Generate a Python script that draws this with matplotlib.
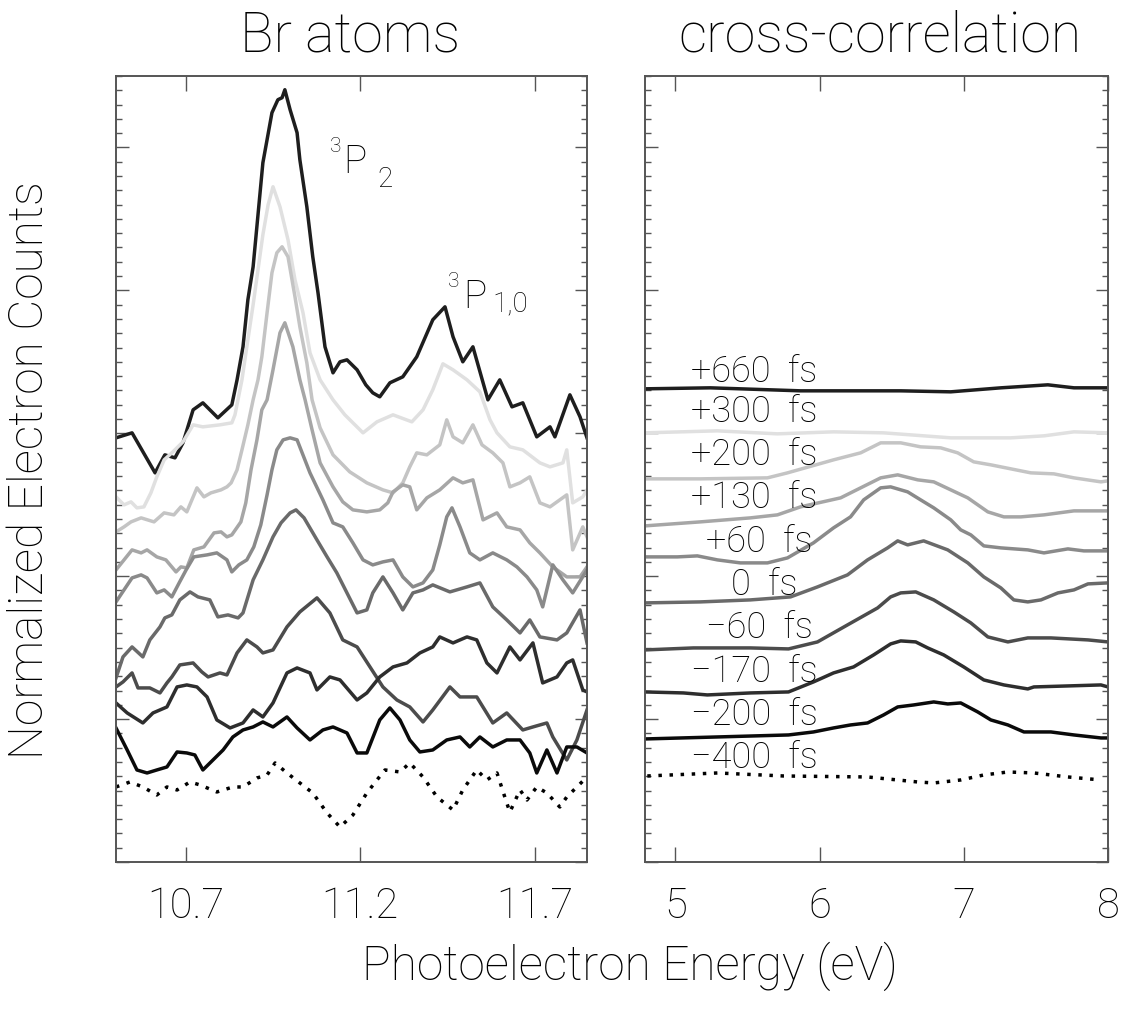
import matplotlib
matplotlib.use("Agg")
import matplotlib.pyplot as plt
from matplotlib.ticker import MultipleLocator, FixedLocator

# Time delays and line colours shared by both panels
delays = ["+660  fs", "+300  fs", "+200  fs", "+130  fs", "+60  fs",
          "0  fs", "\u221260  fs", "\u2212170  fs", "\u2212200  fs", "\u2212400  fs"]
colors = ["#1e1e1e", "#e0e0e0", "#c4c4c4", "#a6a6a6", "#8a8a8a",
          "#6a6a6a", "#4c4c4c", "#2e2e2e", "#0a0a0a", "#000000"]

# ---- Left panel: Br atom photoelectron spectra (energy in eV, offset counts) ----
br_e_p660 = [10.500, 10.546, 10.612, 10.640, 10.669, 10.692, 10.721, 10.749, 10.792, 10.832,
             10.847, 10.864, 10.878, 10.893, 10.907, 10.921, 10.933, 10.947, 10.964, 10.976,
             10.984, 10.999, 11.019, 11.027, 11.047, 11.064, 11.079, 11.099, 11.122, 11.142,
             11.162, 11.191, 11.216, 11.236, 11.256, 11.285, 11.322, 11.362, 11.408, 11.443,
             11.466, 11.494, 11.523, 11.566, 11.600, 11.635, 11.666, 11.706, 11.744, 11.758,
             11.801, 11.830, 11.850]
br_c_p660 = [29.68, 30.03, 27.23, 28.49, 28.28, 29.33, 31.64, 32.13, 31.08, 31.99,
             33.74, 36.05, 39.34, 41.65, 45.29, 48.93, 50.54, 52.43, 53.34, 53.48,
             54.04, 52.64, 51.03, 49.14, 45.85, 42.35, 39.83, 36.05, 34.23, 35.00,
             35.14, 34.44, 33.39, 32.83, 32.55, 33.53, 33.95, 35.35, 37.94, 38.85,
             36.75, 35.00, 36.05, 32.34, 33.74, 31.85, 32.13, 29.75, 30.45, 29.75,
             32.69, 31.15, 29.68]

br_e_p300 = [10.500, 10.523, 10.543, 10.560, 10.580, 10.600, 10.617, 10.638, 10.663, 10.692,
             10.721, 10.749, 10.798, 10.832, 10.841, 10.861, 10.878, 10.893, 10.907, 10.921,
             10.936, 10.950, 10.970, 10.993, 11.013, 11.036, 11.056, 11.085, 11.122, 11.156,
             11.208, 11.248, 11.294, 11.348, 11.380, 11.408, 11.437, 11.466, 11.506, 11.543,
             11.572, 11.592, 11.629, 11.666, 11.715, 11.744, 11.781, 11.792, 11.809, 11.838,
             11.850]
br_c_p300 = [25.55, 24.99, 25.20, 24.78, 24.85, 25.83, 26.95, 28.14, 28.70, 29.40,
             30.59, 30.45, 30.59, 30.73, 31.29, 33.74, 36.54, 38.99, 41.44, 43.89,
             45.99, 47.25, 45.85, 43.54, 40.74, 38.43, 35.63, 33.74, 32.34, 31.29,
             30.03, 30.80, 31.29, 30.80, 31.64, 33.04, 34.86, 34.44, 33.74, 32.90,
             30.94, 30.03, 29.05, 28.84, 27.93, 27.65, 27.93, 28.84, 25.13, 25.55,
             26.04]

br_e_p200 = [10.500, 10.523, 10.543, 10.572, 10.609, 10.638, 10.666, 10.686, 10.703, 10.732,
             10.752, 10.772, 10.801, 10.818, 10.830, 10.847, 10.861, 10.878, 10.893, 10.907,
             10.918, 10.933, 10.947, 10.961, 10.976, 10.993, 11.013, 11.027, 11.047, 11.062,
             11.085, 11.122, 11.170, 11.219, 11.265, 11.294, 11.322, 11.342, 11.362, 11.391,
             11.428, 11.448, 11.466, 11.494, 11.523, 11.549, 11.580, 11.609, 11.629, 11.658,
             11.686, 11.715, 11.744, 11.772, 11.792, 11.809, 11.838, 11.850]
br_c_p200 = [23.10, 23.45, 23.80, 24.08, 23.80, 24.43, 24.29, 24.85, 24.50, 26.18,
             25.55, 25.83, 26.04, 26.25, 26.53, 27.44, 28.84, 30.59, 32.34, 33.74,
             35.35, 38.43, 41.23, 42.63, 43.05, 42.35, 39.55, 37.45, 34.93, 32.34,
             30.38, 28.49, 27.30, 26.53, 26.04, 25.83, 26.53, 27.65, 28.63, 28.49,
             29.19, 30.94, 29.75, 29.33, 30.59, 29.19, 28.63, 27.93, 26.25, 26.53,
             26.95, 25.13, 24.85, 25.34, 25.69, 21.84, 23.45, 22.75]

br_e_p130 = [10.500, 10.523, 10.546, 10.572, 10.589, 10.617, 10.643, 10.672, 10.686, 10.703,
             10.723, 10.752, 10.781, 10.801, 10.818, 10.832, 10.858, 10.872, 10.887, 10.904,
             10.918, 10.933, 10.950, 10.970, 10.984, 11.007, 11.027, 11.042, 11.062, 11.085,
             11.122, 11.150, 11.179, 11.219, 11.256, 11.279, 11.294, 11.322, 11.342, 11.362,
             11.391, 11.428, 11.466, 11.494, 11.523, 11.552, 11.592, 11.620, 11.658, 11.686,
             11.715, 11.752, 11.792, 11.830, 11.850]
br_c_p130 = [20.44, 21.14, 21.84, 21.63, 21.84, 21.35, 21.14, 20.30, 20.65, 20.58,
             21.84, 22.05, 23.03, 23.10, 22.75, 22.89, 23.80, 25.13, 27.44, 29.54,
             31.64, 32.34, 34.44, 37.03, 37.73, 36.05, 33.74, 32.34, 30.24, 27.93,
             26.25, 25.20, 24.64, 24.50, 24.64, 25.13, 25.90, 26.39, 26.25, 24.64,
             25.48, 26.04, 26.88, 26.53, 26.74, 23.94, 24.43, 23.45, 23.24, 22.33,
             21.63, 20.65, 19.95, 19.95, 20.65]

br_e_p60 = [10.500, 10.523, 10.546, 10.572, 10.589, 10.617, 10.638, 10.660, 10.681, 10.701,
            10.723, 10.761, 10.789, 10.818, 10.832, 10.852, 10.875, 10.895, 10.915, 10.933,
            10.947, 10.961, 10.979, 10.999, 11.019, 11.056, 11.093, 11.122, 11.150, 11.179,
            11.208, 11.236, 11.265, 11.294, 11.322, 11.351, 11.380, 11.408, 11.428, 11.448,
            11.463, 11.486, 11.514, 11.543, 11.580, 11.620, 11.649, 11.678, 11.706, 11.723,
            11.752, 11.781, 11.809, 11.850]
br_c_p60 = [18.20, 19.04, 19.88, 20.09, 19.88, 18.83, 19.04, 18.55, 19.53, 20.44,
            21.35, 21.49, 21.63, 21.14, 20.30, 20.79, 21.14, 22.05, 23.59, 25.69,
            27.44, 28.84, 29.54, 29.68, 29.54, 27.23, 25.34, 23.73, 23.45, 22.33,
            21.14, 20.79, 21.00, 21.14, 19.95, 19.25, 19.53, 20.44, 22.19, 24.15,
            24.78, 23.45, 21.63, 21.14, 21.63, 21.14, 20.65, 19.95, 19.04, 17.85,
            20.79, 19.74, 18.83, 20.44]

br_e_0 = [10.500, 10.520, 10.546, 10.577, 10.597, 10.626, 10.640, 10.660, 10.683, 10.712,
          10.735, 10.769, 10.792, 10.821, 10.850, 10.864, 10.893, 10.921, 10.950, 10.973,
          10.999, 11.016, 11.039, 11.076, 11.105, 11.133, 11.162, 11.191, 11.219, 11.236,
          11.265, 11.294, 11.322, 11.351, 11.380, 11.408, 11.457, 11.506, 11.543, 11.580,
          11.620, 11.658, 11.686, 11.715, 11.764, 11.792, 11.830, 11.850]
br_c_0 = [12.88, 14.35, 15.05, 14.35, 15.54, 16.45, 17.08, 17.29, 18.34, 18.90,
          18.55, 18.34, 17.15, 17.29, 17.08, 17.43, 19.74, 21.14, 22.75, 23.73,
          24.43, 24.64, 24.08, 22.54, 21.35, 20.23, 18.83, 17.43, 17.64, 18.83,
          19.95, 18.83, 17.64, 18.83, 19.04, 19.39, 18.90, 19.25, 19.53, 17.85,
          16.94, 16.03, 16.94, 15.75, 15.54, 16.03, 17.64, 15.33]

br_e_m60 = [10.500, 10.520, 10.546, 10.563, 10.597, 10.626, 10.646, 10.660, 10.683, 10.721,
            10.746, 10.764, 10.798, 10.818, 10.847, 10.875, 10.904, 10.921, 10.950, 10.990,
            11.027, 11.076, 11.113, 11.150, 11.191, 11.228, 11.265, 11.305, 11.342, 11.380,
            11.408, 11.457, 11.486, 11.534, 11.580, 11.620, 11.666, 11.695, 11.735, 11.752,
            11.792, 11.821, 11.850]
br_c_m60 = [12.25, 12.60, 13.23, 12.18, 12.18, 11.83, 12.53, 12.95, 13.79, 13.93,
            13.30, 12.95, 13.23, 13.09, 14.63, 15.54, 15.05, 14.63, 14.84, 16.45,
            17.50, 18.48, 17.43, 15.54, 15.05, 13.65, 12.25, 11.34, 10.85, 9.80,
            10.64, 12.25, 11.55, 11.55, 9.73, 10.43, 9.24, 9.45, 9.73, 8.75,
            7.14, 8.54, 10.64]

br_e_m170 = [10.500, 10.532, 10.577, 10.606, 10.646, 10.675, 10.703, 10.732, 10.761, 10.789,
             10.827, 10.864, 10.893, 10.921, 10.950, 10.990, 11.019, 11.056, 11.076, 11.113,
             11.142, 11.191, 11.219, 11.256, 11.294, 11.334, 11.371, 11.408, 11.428, 11.466,
             11.506, 11.534, 11.563, 11.592, 11.629, 11.658, 11.695, 11.723, 11.764, 11.792,
             11.809, 11.838, 11.850]
br_c_m170 = [11.13, 10.43, 9.73, 10.43, 10.85, 12.25, 12.39, 12.25, 11.55, 9.94,
             9.38, 9.73, 10.64, 10.15, 11.13, 13.23, 13.58, 13.23, 12.04, 12.95,
             12.74, 11.34, 11.83, 12.95, 13.65, 13.93, 14.63, 15.05, 15.75, 15.33,
             15.75, 15.54, 13.93, 13.23, 15.05, 14.14, 15.33, 12.53, 12.95, 13.93,
             14.14, 12.04, 11.90]

br_e_m200 = [10.500, 10.532, 10.560, 10.589, 10.617, 10.646, 10.675, 10.703, 10.726, 10.749,
             10.778, 10.807, 10.835, 10.864, 10.893, 10.921, 10.950, 10.990, 11.019, 11.056,
             11.093, 11.122, 11.162, 11.191, 11.219, 11.256, 11.285, 11.314, 11.342, 11.371,
             11.408, 11.448, 11.486, 11.514, 11.543, 11.580, 11.620, 11.658, 11.686, 11.706,
             11.735, 11.764, 11.792, 11.821, 11.850]
br_c_m200 = [9.38, 7.84, 6.44, 6.23, 6.44, 6.65, 7.70, 7.63, 7.49, 6.44,
             7.14, 7.84, 8.75, 9.24, 9.45, 9.80, 9.45, 10.15, 9.38, 8.54,
             9.24, 9.45, 9.03, 7.63, 7.63, 9.94, 10.78, 9.94, 8.54, 7.70,
             7.84, 8.54, 8.75, 8.05, 8.75, 8.05, 8.54, 8.54, 7.63, 6.23,
             7.84, 6.23, 8.05, 8.05, 7.63]

br_e_m400 = [10.500, 10.540, 10.577, 10.617, 10.646, 10.675, 10.712, 10.741, 10.789, 10.835,
             10.864, 10.904, 10.933, 10.956, 10.990, 11.027, 11.064, 11.105, 11.142, 11.179,
             11.219, 11.248, 11.271, 11.314, 11.342, 11.380, 11.420, 11.466, 11.494, 11.534,
             11.563, 11.592, 11.620, 11.629, 11.658, 11.678, 11.706, 11.735, 11.772, 11.792,
             11.821, 11.850]
br_c_m400 = [5.25, 5.60, 5.25, 4.69, 5.25, 5.04, 5.60, 5.39, 4.90, 5.25,
             5.25, 5.88, 6.09, 6.93, 6.23, 5.53, 4.83, 3.43, 2.45, 3.29,
             4.83, 5.74, 6.44, 6.30, 6.93, 5.95, 4.55, 3.64, 5.04, 6.44,
             5.74, 6.23, 4.13, 3.50, 5.04, 4.34, 5.25, 4.83, 3.85, 4.55,
             5.25, 5.95]

# ---- Right panel: cross-correlation spectra ----
xc_e_p660 = [4.79, 5.243, 5.868, 6.563, 6.910, 7.257, 7.583, 7.764, 8.0]
xc_c_p660 = [33.11, 33.18, 32.97, 32.97, 32.90, 33.18, 33.39, 33.18, 33.18]

xc_e_p300 = [4.79, 5.292, 5.708, 6.097, 6.444, 6.910, 7.326, 7.556, 7.764, 8.0]
xc_c_p300 = [30.03, 30.17, 29.96, 30.10, 30.03, 29.68, 29.68, 29.82, 30.10, 30.03]

xc_e_p200 = [4.79, 5.174, 5.639, 5.778, 6.097, 6.285, 6.424, 6.563, 6.701, 6.840,
             6.958, 7.069, 7.188, 7.465, 7.625, 7.764, 7.951, 8.0]
xc_c_p200 = [26.81, 26.81, 26.88, 27.23, 28.14, 28.63, 29.33, 29.33, 29.05, 28.98,
             28.63, 28.00, 27.79, 27.23, 27.16, 26.88, 26.60, 26.67]

xc_e_p130 = [4.79, 5.174, 5.521, 5.708, 5.868, 6.146, 6.285, 6.424, 6.542, 6.681,
             6.792, 6.910, 7.028, 7.167, 7.278, 7.396, 7.556, 7.764, 8.0]
xc_c_p130 = [23.52, 23.80, 24.08, 24.29, 24.85, 25.48, 26.18, 26.88, 27.09, 26.74,
             26.60, 26.04, 25.48, 24.50, 24.15, 24.15, 24.29, 24.57, 24.57]

xc_e_p60 = [4.79, 5.014, 5.153, 5.292, 5.451, 5.639, 5.778, 5.958, 6.097, 6.215,
            6.306, 6.424, 6.493, 6.611, 6.701, 6.792, 6.910, 6.979, 7.049, 7.139,
            7.257, 7.444, 7.556, 7.722, 7.833, 8.0]
xc_c_p60 = [21.35, 21.35, 21.42, 21.14, 20.93, 20.93, 21.28, 22.33, 23.38, 24.15,
            25.34, 26.18, 26.25, 25.90, 25.34, 24.78, 23.94, 23.24, 22.89, 22.12,
            21.98, 21.84, 21.63, 21.91, 21.77, 21.77]

xc_e_0 = [4.79, 5.174, 5.521, 5.799, 5.986, 6.194, 6.333, 6.472, 6.542, 6.611,
          6.722, 6.889, 7.028, 7.139, 7.257, 7.347, 7.444, 7.535, 7.653, 7.764,
          7.861, 8.0]
xc_c_0 = [18.13, 18.20, 18.34, 18.55, 19.25, 20.09, 21.14, 21.98, 22.47, 22.19,
          22.47, 21.84, 20.93, 19.95, 19.18, 18.34, 18.20, 18.34, 18.83, 19.04,
          19.46, 19.53]

xc_e_m60 = [4.79, 5.125, 5.521, 5.785, 5.986, 6.194, 6.403, 6.493, 6.563, 6.667,
            6.792, 6.931, 7.049, 7.167, 7.306, 7.444, 7.604, 7.861, 8.0]
xc_c_m60 = [14.84, 14.98, 14.98, 14.91, 15.40, 16.59, 17.78, 18.55, 18.83, 18.90,
            18.34, 17.50, 16.73, 15.75, 15.40, 15.68, 15.68, 15.54, 15.40]

xc_e_m170 = [4.79, 5.056, 5.222, 5.521, 5.785, 5.958, 6.097, 6.236, 6.375, 6.493,
             6.563, 6.667, 6.750, 6.861, 7.000, 7.139, 7.278, 7.444, 7.486, 7.722,
             7.951, 8.0]
xc_c_m170 = [11.90, 11.83, 11.69, 11.83, 11.90, 12.60, 13.23, 13.65, 14.49, 15.26,
             15.47, 15.40, 14.98, 14.49, 13.65, 12.74, 12.39, 12.11, 12.25, 12.32,
             12.39, 12.25]

xc_e_m200 = [4.79, 5.292, 5.785, 5.958, 6.097, 6.215, 6.333, 6.444, 6.542, 6.653,
             6.792, 6.889, 6.979, 7.097, 7.188, 7.306, 7.417, 7.604, 7.764, 7.951,
             8.0]
xc_c_m200 = [8.61, 8.75, 8.89, 9.10, 9.38, 9.59, 9.73, 10.29, 10.85, 10.99,
             11.20, 11.06, 11.13, 10.50, 9.94, 9.59, 9.10, 9.10, 8.89, 8.68,
             8.68]

xc_e_m400 = [4.806, 5.292, 5.750, 6.333, 6.681, 6.792, 6.979, 7.139, 7.306, 7.486,
             7.722, 7.951]
xc_c_m400 = [6.02, 6.23, 6.02, 5.95, 5.60, 5.53, 5.74, 6.09, 6.30, 6.23,
             5.95, 5.74]

# Delay labels in the right panel: right end (eV) and baseline (counts)
label_x = [5.986, 5.986, 5.986, 5.986, 5.951, 5.847, 5.951, 5.986, 5.986, 5.986]
label_y = [33.6, 30.8, 27.79, 24.78, 21.7, 18.69, 15.68, 12.6, 9.59, 6.58]

br_series = [(br_e_p660, br_c_p660), (br_e_p300, br_c_p300), (br_e_p200, br_c_p200),
             (br_e_p130, br_c_p130), (br_e_p60, br_c_p60), (br_e_0, br_c_0),
             (br_e_m60, br_c_m60), (br_e_m170, br_c_m170), (br_e_m200, br_c_m200),
             (br_e_m400, br_c_m400)]
xc_series = [(xc_e_p660, xc_c_p660), (xc_e_p300, xc_c_p300), (xc_e_p200, xc_c_p200),
             (xc_e_p130, xc_c_p130), (xc_e_p60, xc_c_p60), (xc_e_0, xc_c_0),
             (xc_e_m60, xc_c_m60), (xc_e_m170, xc_c_m170), (xc_e_m200, xc_c_m200),
             (xc_e_m400, xc_c_m400)]

left_ticks = [10.7, 11.2, 11.7]
right_ticks = [5, 6, 7, 8]

plt.rcParams["font.family"] = ["Roboto", "DejaVu Sans"]
plt.rcParams["font.weight"] = "light"

W, H = 1133, 1010
fig = plt.figure(figsize=(W / 100, H / 100), dpi=100)
ax_l = fig.add_axes([116 / W, 1 - 862 / H, 471 / W, 786 / H])
ax_r = fig.add_axes([645 / W, 1 - 862 / H, 463 / W, 786 / H])

lw = 2.5
for ax, series in ((ax_l, br_series), (ax_r, xc_series)):
    for i, (e, c) in enumerate(series):
        if i == len(series) - 1:
            ax.plot(e, c, color=colors[i], lw=lw, ls=(0, (1, 2.2)))
        else:
            ax.plot(e, c, color=colors[i], lw=lw, ls="-", solid_joinstyle="round")

ax_l.set_xlim(10.5, 11.85)
ax_r.set_xlim(4.79, 8.0)
for ax, ticks in ((ax_l, left_ticks), (ax_r, right_ticks)):
    ax.set_ylim(0, 55)
    ax.xaxis.set_major_locator(FixedLocator(ticks))
    ax.set_xticklabels([f"{t:g}" for t in ticks])
    ax.yaxis.set_major_locator(MultipleLocator(10))
    ax.yaxis.set_minor_locator(MultipleLocator(1))
    ax.tick_params(axis="y", which="both", direction="in", left=True, right=True,
                   labelleft=False, color="#555555", width=1.0)
    ax.tick_params(axis="y", which="major", length=9)
    ax.tick_params(axis="y", which="minor", length=4.5)
    ax.tick_params(axis="x", which="major", direction="in", top=True, bottom=True,
                   length=11, width=1.0, color="#555555", labelsize=30, pad=17)
    for sp in ax.spines.values():
        sp.set_color("#555555")
        sp.set_linewidth(1.4)

for i, txt in enumerate(delays):
    ax_r.text(label_x[i], label_y[i], txt, ha="right", va="baseline", fontsize=26)

# Term symbols for the two spin-orbit states
ax_l.text(11.113, 49.7, "3", fontsize=15, ha="left", va="baseline")
ax_l.text(11.150, 48.23, "P", fontsize=28, ha="left", va="baseline")
ax_l.text(11.248, 47.25, "2", fontsize=20, ha="left", va="baseline")
ax_l.text(11.451, 40.25, "3", fontsize=15, ha="left", va="baseline")
ax_l.text(11.494, 38.78, "P", fontsize=28, ha="left", va="baseline")
ax_l.text(11.580, 38.5, "1,0", fontsize=20, ha="left", va="baseline")

fig.text(350 / W, 1 - 52 / H, "Br atoms", fontsize=40, ha="center", va="baseline")
fig.text(880 / W, 1 - 52 / H, "cross-correlation", fontsize=40, ha="center", va="baseline")
fig.text(630 / W, 1 - 966 / H, "Photoelectron Energy (eV)", fontsize=34.5, ha="center",
         va="center")
fig.text(30 / W, 1 - 470 / H, "Normalized Electron Counts", fontsize=34.5, ha="center",
         va="center", rotation=90)

fig.savefig("out.png", dpi=100)
